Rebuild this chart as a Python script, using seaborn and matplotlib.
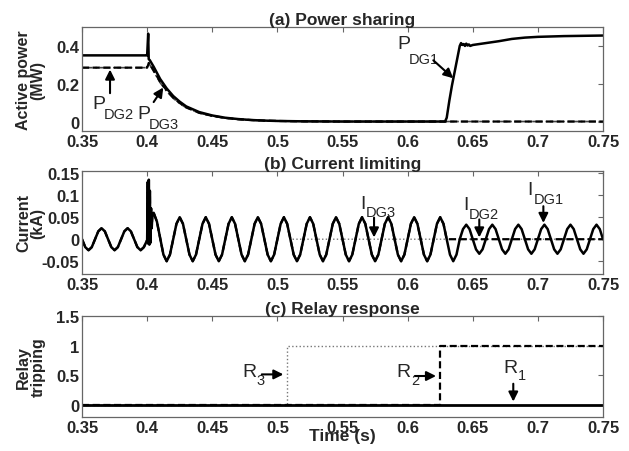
import numpy as np
import matplotlib
matplotlib.use("Agg")
import matplotlib.pyplot as plt
import seaborn as sns

sns.set_style("white")
plt.rcParams["font.family"] = ["Liberation Sans", "DejaVu Sans"]

# ---------------- (a) active power (MW) ----------------
t_p = [0.35, 0.3995, 0.4, 0.4008, 0.4012, 0.402, 0.405, 0.41, 0.415, 0.42,
       0.425, 0.43, 0.44, 0.45, 0.46, 0.47, 0.48, 0.49, 0.50, 0.52,
       0.55, 0.60, 0.6287, 0.630, 0.632, 0.634, 0.636, 0.638, 0.640, 0.641,
       0.642, 0.643, 0.644, 0.645, 0.646, 0.647, 0.648, 0.650, 0.655, 0.66,
       0.67, 0.68, 0.69, 0.70, 0.72, 0.75]
p_dg1 = [0.35, 0.35, 0.35, 0.465, 0.33, 0.325, 0.29, 0.225, 0.175, 0.135,
         0.105, 0.08, 0.05, 0.032, 0.02, 0.013, 0.008, 0.005, 0.003, 0.001,
         0.0, 0.0, 0.0, 0.02, 0.11, 0.19, 0.26, 0.33, 0.40, 0.415,
         0.405, 0.41, 0.40, 0.412, 0.402, 0.408, 0.40, 0.405, 0.41, 0.415,
         0.425, 0.437, 0.444, 0.448, 0.452, 0.455]
p_dg2 = [0.285, 0.285, 0.285, 0.30, 0.31, 0.305, 0.27, 0.21, 0.165, 0.127,
         0.098, 0.075, 0.046, 0.03, 0.019, 0.012, 0.008, 0.005, 0.003, 0.001,
         0.0, 0.0, 0.0, 0.0, 0.0, 0.0, 0.0, 0.0, 0.0, 0.0,
         0.0, 0.0, 0.0, 0.0, 0.0, 0.0, 0.0, 0.0, 0.0, 0.0,
         0.0, 0.0, 0.0, 0.0, 0.0, 0.0]
p_dg3 = [0.285, 0.285, 0.285, 0.30, 0.31, 0.30, 0.265, 0.205, 0.16, 0.123,
         0.095, 0.073, 0.045, 0.029, 0.018, 0.012, 0.007, 0.004, 0.002, 0.001,
         0.0, 0.0, 0.0, 0.0, 0.0, 0.0, 0.0, 0.0, 0.0, 0.0,
         0.0, 0.0, 0.0, 0.0, 0.0, 0.0, 0.0, 0.0, 0.0, 0.0,
         0.0, 0.0, 0.0, 0.0, 0.0, 0.0]

# ---------------- (b) current (kA) ----------------
t_pre = np.arange(0.35, 0.3999, 0.0025)
i_pre = [0, -0.018, -0.025, -0.018, 0, 0.018, 0.025, 0.018,
         0, -0.018, -0.025, -0.018, 0, 0.018, 0.025, 0.018,
         0, -0.018, -0.025, -0.018]
t_fault = [0.4, 0.4005, 0.4009, 0.4013, 0.4017, 0.4021, 0.4025, 0.403,
           0.4035, 0.404, 0.405, 0.4075, 0.41, 0.4125, 0.415, 0.4175]
i_fault = [-0.002, 0.13, -0.01, 0.135, -0.012, 0.11, -0.008, 0.07,
           0.025, 0.055, 0.06, 0.04, 0.002, -0.035, -0.05, -0.035]
t_post = np.arange(0.42, 0.75001, 0.0025)
i_post = [0, 0.035, 0.05, 0.035, 0, -0.035, -0.05, -0.035,
          0, 0.035, 0.05, 0.035, 0, -0.035, -0.05, -0.035,
          0, 0.035, 0.05, 0.035, 0, -0.035, -0.05, -0.035,
          0, 0.035, 0.05, 0.035, 0, -0.035, -0.05, -0.035,
          0, 0.035, 0.05, 0.035, 0, -0.035, -0.05, -0.035,
          0, 0.035, 0.05, 0.035, 0, -0.035, -0.05, -0.035,
          0, 0.035, 0.05, 0.035, 0, -0.035, -0.05, -0.035,
          0, 0.035, 0.05, 0.035, 0, -0.035, -0.05, -0.035,
          0, 0.035, 0.05, 0.035, 0, -0.035, -0.05, -0.035,
          0, 0.035, 0.05, 0.035, 0, -0.035, -0.05, -0.035,
          0, 0.035, 0.05, 0.035, 0, -0.035, -0.05, -0.035,
          0, 0.023, 0.033, 0.023, 0, -0.023, -0.033, -0.023,
          0, 0.023, 0.033, 0.023, 0, -0.023, -0.033, -0.023,
          0, 0.023, 0.033, 0.023, 0, -0.023, -0.033, -0.023,
          0, 0.023, 0.033, 0.023, 0, -0.023, -0.033, -0.023,
          0, 0.023, 0.033, 0.023, 0, -0.023, -0.033, -0.023,
          0, 0.023, 0.033, 0.023, 0]
i_zero_dg3 = 0.51   # current of DG3 interrupted
i_zero_dg2 = 0.63   # current of DG2 interrupted

# ---------------- (c) relay tripping ----------------
t_r1 = [0.35, 0.75]
r1 = [0, 0]
t_r2 = [0.35, 0.625, 0.625, 0.75]
r2 = [0, 0, 1, 1]
t_r3 = [0.35, 0.507, 0.507, 0.75]
r3 = [0, 0, 1, 1]

xticks = [0.35, 0.4, 0.45, 0.5, 0.55, 0.6, 0.65, 0.7, 0.75]
xticklabels = ["0.35", "0.4", "0.45", "0.5", "0.55", "0.6", "0.65", "0.7", "0.75"]

t_i = np.concatenate([t_pre, t_fault, t_post])
i_dg1 = np.array(i_pre + i_fault + i_post)
i_dg2 = np.where(t_i < i_zero_dg2 - 1e-9, i_dg1, 0.0)
i_dg3 = np.where(t_i < i_zero_dg3 - 1e-9, i_dg1, 0.0)

fig = plt.figure(figsize=(6.29, 4.52), dpi=100)
ax_a = fig.add_axes([0.1304, 0.708, 0.8283, 0.230])
ax_b = fig.add_axes([0.1304, 0.3916, 0.8283, 0.2279])
ax_c = fig.add_axes([0.1304, 0.0752, 0.8283, 0.2235])

kw = dict(estimator=None, sort=False, errorbar=None, legend=False)
dash = (3.2, 1.6)

sns.lineplot(x=t_p, y=p_dg3, ax=ax_a, color="#444444", lw=1.2, linestyle="-.", **kw)
sns.lineplot(x=t_p, y=p_dg1, ax=ax_a, color="k", lw=1.8, **kw)
sns.lineplot(x=t_p, y=p_dg2, ax=ax_a, color="k", lw=1.6, **kw)
ax_a.lines[-1].set_dashes(dash)

sns.lineplot(x=t_i, y=i_dg3, ax=ax_b, color="#777777", lw=1.0, linestyle=":", **kw)
sns.lineplot(x=t_i, y=i_dg1, ax=ax_b, color="k", lw=1.8, **kw)
sns.lineplot(x=t_i, y=i_dg2, ax=ax_b, color="k", lw=1.6, **kw)
ax_b.lines[-1].set_dashes(dash)

sns.lineplot(x=t_r3, y=r3, ax=ax_c, color="#777777", lw=1.0, linestyle=":", **kw)
sns.lineplot(x=t_r1, y=r1, ax=ax_c, color="k", lw=2.0, **kw)
sns.lineplot(x=t_r2, y=r2, ax=ax_c, color="k", lw=1.6, **kw)
ax_c.lines[-1].set_dashes(dash)

ax_a.set_ylim(-0.05, 0.5)
ax_a.set_yticks([0, 0.2, 0.4], ["0", "0.2", "0.4"])
ax_b.set_ylim(-0.079, 0.155)
ax_b.set_yticks([-0.05, 0, 0.05, 0.1, 0.15], ["-0.05", "0", "0.05", "0.1", "0.15"])
ax_c.set_ylim(-0.2, 1.5)
ax_c.set_yticks([0, 0.5, 1, 1.5], ["0", "0.5", "1", "1.5"])

titles = ["(a) Power sharing", "(b) Current limiting", "(c) Relay response"]
ylabels = ["Active power\n(MW)", "Current\n(kA)", "Relay\ntripping"]
for ax, title, ylab in zip([ax_a, ax_b, ax_c], titles, ylabels):
    ax.set_xlim(0.35, 0.75)
    ax.set_xticks(xticks, xticklabels)
    ax.tick_params(direction="in", length=3.5, width=0.8, color="#666666",
                   top=True, right=True, labelsize=12, pad=2)
    for lab in ax.get_xticklabels() + ax.get_yticklabels():
        lab.set_fontweight("bold")
    for sp in ax.spines.values():
        sp.set_color("#666666")
        sp.set_linewidth(0.9)
    ax.set_title(title, fontsize=12.5, fontweight="bold", pad=2)
    ax.set_ylabel(ylab, fontsize=11.5, fontweight="bold", linespacing=0.95)
    ax.yaxis.set_label_coords(-0.07, 0.5)
    ax.set_xlabel("")

ax_c.set_xlabel("Time (s)", fontsize=12.5, fontweight="bold", labelpad=-5)

arrow = dict(arrowstyle="-|>", color="k", lw=1.5, mutation_scale=14,
             shrinkA=0, shrinkB=0)


def sub_label(ax, x, y, main, sub, dx, dy):
    # main letter with a lowered subscript, as in the original figure
    ax.text(x, y, main, fontsize=14, ha="left", va="baseline")
    ax.annotate(sub, xy=(x, y), xytext=(dx, -dy), textcoords="offset points",
                fontsize=10.5, ha="left", va="baseline")


# panel (a) labels
sub_label(ax_a, 0.3577, 0.072, "P", "DG2", 8.5, 7)
ax_a.annotate("", xy=(0.3715, 0.275), xytext=(0.3715, 0.15), arrowprops=arrow)
sub_label(ax_a, 0.3922, 0.018, "P", "DG3", 8.5, 7)
ax_a.annotate("", xy=(0.4124, 0.18), xytext=(0.405, 0.103), arrowprops=arrow)
sub_label(ax_a, 0.5918, 0.388, "P", "DG1", 8.5, 11)
ax_a.annotate("", xy=(0.635, 0.229), xytext=(0.6197, 0.324), arrowprops=arrow)

# panel (b) labels
sub_label(ax_b, 0.5634, 0.072, "I", "DG3", 4, 6)
ax_b.annotate("", xy=(0.5742, 0.004), xytext=(0.5742, 0.049), arrowprops=arrow)
sub_label(ax_b, 0.6428, 0.068, "I", "DG2", 4, 6)
ax_b.annotate("", xy=(0.655, 0.004), xytext=(0.655, 0.045), arrowprops=arrow)
sub_label(ax_b, 0.6922, 0.102, "I", "DG1", 4, 6)
ax_b.annotate("", xy=(0.7042, 0.037), xytext=(0.7042, 0.075), arrowprops=arrow)

# panel (c) labels
sub_label(ax_c, 0.4728, 0.49, "R", "3", 10.5, 6)
ax_c.annotate("", xy=(0.5046, 0.517), xytext=(0.488, 0.517), arrowprops=arrow)
sub_label(ax_c, 0.5916, 0.49, "R", "2", 10.5, 6)
ax_c.annotate("", xy=(0.6218, 0.49), xytext=(0.6057, 0.49), arrowprops=arrow)
sub_label(ax_c, 0.6735, 0.56, "R", "1", 10.5, 5)
ax_c.annotate("", xy=(0.6811, 0.06), xytext=(0.6811, 0.36), arrowprops=arrow)

fig.savefig("out.png", dpi=100)
